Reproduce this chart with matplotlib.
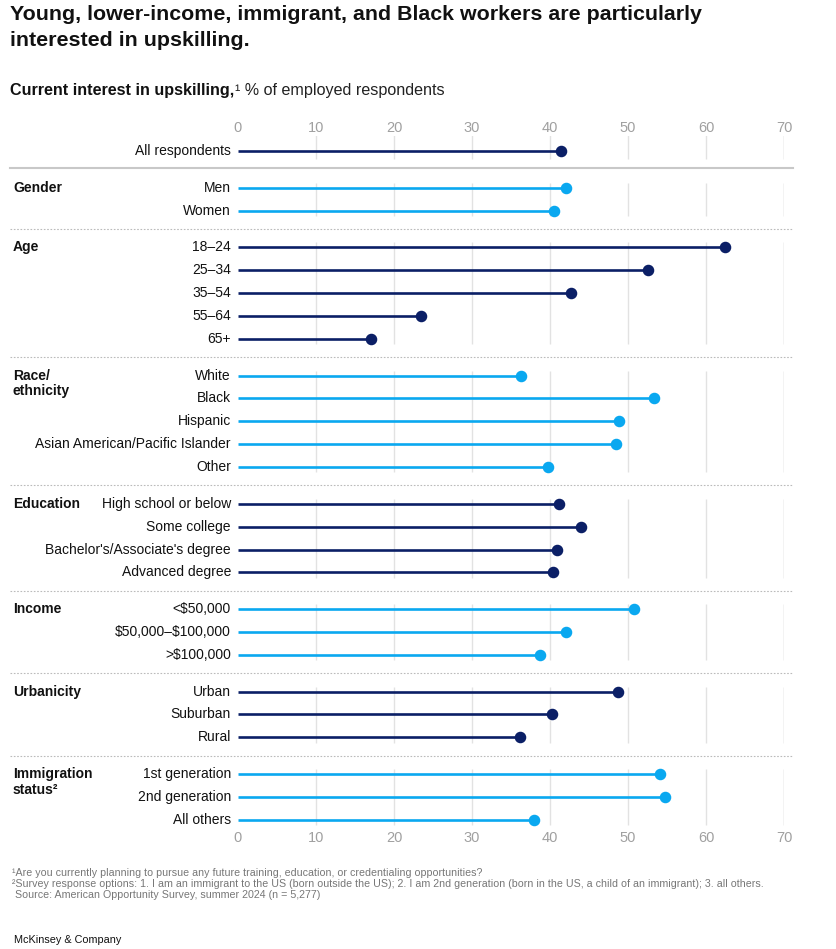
import matplotlib.pyplot as plt
from matplotlib import transforms

plt.rcParams['font.family'] = ['Liberation Sans', 'DejaVu Sans']

# Data
groups = ["", "Gender", "Age", "Race/\nethnicity", "Education", "Income", "Urbanicity", "Immigration\nstatus²"]
labels = [
    ["All respondents"],
    ["Men", "Women"],
    ["18–24", "25–34", "35–54", "55–64", "65+"],
    ["White", "Black", "Hispanic", "Asian American/Pacific Islander", "Other"],
    ["High school or below", "Some college", "Bachelor's/Associate's degree", "Advanced degree"],
    ["<\\$50,000", "\\$50,000–\\$100,000", ">\\$100,000"],
    ["Urban", "Suburban", "Rural"],
    ["1st generation", "2nd generation", "All others"],
]
values = [
    [41.4],
    [42.0, 40.5],
    [62.4, 52.6, 42.7, 23.4, 17.1],
    [36.3, 53.3, 48.8, 48.4, 39.7],
    [41.2, 44.0, 40.9, 40.4],
    [50.8, 42.0, 38.7],
    [48.7, 40.2, 36.1],
    [54.1, 54.7, 38.0],
]
ticks = [0, 10, 20, 30, 40, 50, 60, 70]

DARK = "#0b1f66"
LIGHT = "#0aa8f0"
colors = [DARK, LIGHT, DARK, LIGHT, DARK, LIGHT, DARK, LIGHT]

W, H = 837, 949
fig = plt.figure(figsize=(W / 100, H / 100), dpi=100)

# pixel layout
px_row0, px_step, gap = 151, 22.85, 1.61
ax_top, ax_bot = 136, 830
x0_px, x70_px = 238, 784
ax = fig.add_axes([x0_px / W, 1 - ax_bot / H, (x70_px - x0_px) / W, (ax_bot - ax_top) / H])
ax.set_xlim(0, 70)
ax.set_ylim((ax_bot - px_row0) / px_step, (ax_top - px_row0) / px_step)
for s in ax.spines.values():
    s.set_visible(False)
ax.set_yticks([])
ax.set_xticks(ticks)
ax.tick_params(axis="x", length=0, labeltop=True, labelbottom=True, pad=0.5,
               labelsize=10.5, labelcolor="#a0a0a0")

blend = transforms.blended_transform_factory(fig.transFigure, ax.transData)

y = 0.0
for gi, (grp, labs, vals) in enumerate(zip(groups, labels, values)):
    ys = []
    for lab, v in zip(labs, vals):
        ys.append(y)
        ax.hlines(y, 0, v, color=colors[gi], lw=1.9, zorder=3)
        ax.plot(v, y, "o", color=colors[gi], ms=7.3, zorder=4)
        ax.text(-0.9, y, lab, ha="right", va="center", fontsize=10, color="#111111")
        y += 1
    top = ys[0] - (0.95 if gi == 0 else 0.22)
    bot = ys[-1] + (0.35 if gi == 0 else 0.24)
    for t in ticks[1:]:
        ax.vlines(t, top, bot, color="#c4c4c4" if t == 70 else "#e2e2e2", lw=1, zorder=1)
    for li, line in enumerate(grp.split("\n") if grp else []):
        ax.text(13 / W, ys[0] + li * 15.5 / px_step, line, transform=blend, ha="left", va="center",
                fontsize=10, fontweight="bold", color="#111111")
    if gi < len(groups) - 1:
        sep = ys[-1] + (0.75 if gi == 0 else gap / 2)
        ax.plot([10 / W, 793 / W], [sep, sep], transform=blend, clip_on=False,
                color="#c8c8c8" if gi == 0 else "#bbbbbb",
                lw=1.5 if gi == 0 else 0.8, ls="-" if gi == 0 else (0, (1.5, 1.5)))
        y = ys[-1] + gap

# titles
fig.text(10 / W, 1 - 5 / H, "Young, lower-income, immigrant, and Black workers are particularly\ninterested in upskilling.",
         ha="left", va="top", fontsize=15.4, fontweight="bold", color="#111111", linespacing=1.45)
t1 = fig.text(10 / W, 1 - 90 / H, "Current interest in upskilling,", ha="left", va="center",
              fontsize=11.6, fontweight="bold", color="#111111")
fig.canvas.draw()
bb = t1.get_window_extent()
fig.text(bb.x1 / W + 1 / W, 1 - 90 / H, "¹ % of employed respondents", ha="left", va="center",
         fontsize=11.6, color="#222222")

notes = [
    "¹Are you currently planning to pursue any future training, education, or credentialing opportunities?",
    "²Survey response options: 1. I am an immigrant to the US (born outside the US); 2. I am 2nd generation (born in the US, a child of an immigrant); 3. all others.",
    " Source: American Opportunity Survey, summer 2024 (n = 5,277)",
]
for i, n in enumerate(notes):
    fig.text(12 / W, 1 - (873 + 11 * i) / H, n, ha="left", va="center", fontsize=7.7, color="#777777")
fig.text(14 / W, 1 - 940 / H, "McKinsey & Company", ha="left", va="center", fontsize=7.8, color="#111111")

fig.savefig("out.png", dpi=100)
